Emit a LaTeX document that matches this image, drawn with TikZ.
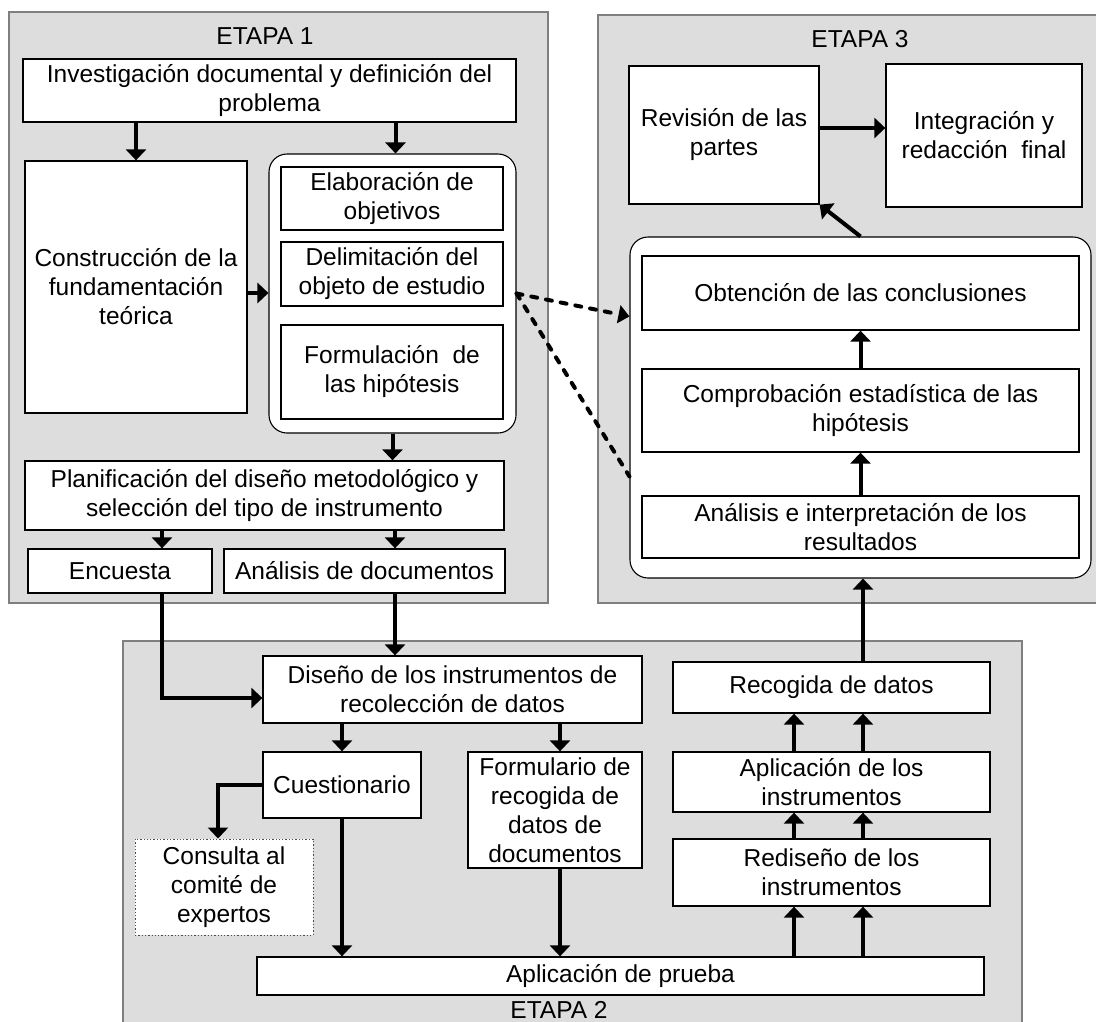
\documentclass[tikz,border=0pt]{standalone}
\usepackage{fontspec}
\setmainfont{Liberation Sans}
\usetikzlibrary{arrows.meta,calc}
\definecolor{panelgray}{HTML}{DDDDDD}
\definecolor{panelline}{HTML}{7F7F7F}
% #1 style, #2 name, #3 x1, #4 y1, #5 x2, #6 y2, #7 text
\newcommand\mkbox[7][box]{\node[#1, minimum width={#5-#3}, minimum height={#6-#4}] (#2) at ({(#3+#5)/2},{(#4+#6)/2}) {#7};}
\begin{document}
\begin{tikzpicture}[x=1pt,y=-1pt,
  panel/.style={draw=panelline, fill=panelgray, line width=1.2pt, inner sep=0pt},
  box/.style={draw=black, fill=white, line width=1.3pt, inner sep=0pt, align=center, font=\fontsize{24.5}{29}\selectfont},
  dotbox/.style={box, draw=black!70, dotted, line width=1pt},
  grp/.style={draw=black, fill=white, line width=1.1pt, rounded corners=18pt, inner sep=0pt},
  lbl/.style={font=\fontsize{24.5}{29}\selectfont, inner sep=0pt},
  arr/.style={line width=4pt, -{Triangle[length=11pt,width=20pt]}},
  dsh/.style={line width=4pt, dash pattern=on 6pt off 9pt, line cap=round}
]
\useasboundingbox (0,0) rectangle (1096,1021);
\clip (0,0) rectangle (1096,1021);
\fill[white] (0,0) rectangle (1096,1021);

% panels
\mkbox[panel]{p1}{9}{12}{548}{603}{}
\mkbox[panel]{p3}{598}{15}{1110}{603}{}
\mkbox[panel]{p2}{123}{641}{1022}{1040}{}
\node[lbl] (t1) at (265,36) {ETAPA 1};
\node[lbl] (t3) at (860,39) {ETAPA 3};
\node[lbl, anchor=base] (t2) at (559,1018) {ETAPA 2};

% groups
\mkbox[grp]{g1}{269}{154}{516}{433}{}
\mkbox[grp]{g3}{630}{237}{1091}{578}{}

% ETAPA 1
\mkbox{inv}{23}{59}{516}{122}{Investigación documental y definición del\\problema}
\mkbox{cons}{25}{161}{247}{413}{Construcción de la\\fundamentación\\teórica}
\mkbox{elab}{281}{167}{503}{230}{Elaboración de\\objetivos}
\mkbox{delim}{281}{242}{503}{306}{Delimitación del\\objeto de estudio}
\mkbox{form}{281}{325}{503}{419}{Formulación\ \ de\\las hipótesis}
\mkbox{plan}{25}{461}{504}{530}{Planificación del diseño metodológico y\\selección del tipo de instrumento}
\mkbox{enc}{28}{549}{212}{593}{Encuesta}
\mkbox{anadoc}{224}{549}{505}{593}{Análisis de documentos}

% ETAPA 3
\mkbox{rev}{629}{66}{819}{204}{Revisión de las\\partes}
\mkbox{int}{886}{64}{1082}{207}{Integración y\\redacción\ \ final}
\mkbox{obt}{642}{256}{1079}{330}{Obtención de las conclusiones}
\mkbox{comp}{642}{369}{1079}{452}{Comprobación estadística de las\\hipótesis}
\mkbox{anai}{642}{496}{1079}{558}{Análisis e interpretación de los\\resultados}

% ETAPA 2
\mkbox{dis}{263}{656}{642}{723}{Diseño de los instrumentos de\\recolección de datos}
\mkbox{cue}{263}{752}{421}{818}{Cuestionario}
\mkbox[dotbox]{con}{135}{839}{313}{935}{Consulta al\\comité de\\expertos}
\mkbox{frm}{468}{752}{642}{868}{Formulario de\\recogida de\\datos de\\documentos}
\mkbox{apr}{257}{957}{984}{995}{Aplicación de prueba}
\mkbox{rec}{673}{662}{990}{713}{Recogida de datos}
\mkbox{apl}{673}{752}{990}{812}{Aplicación de los\\instrumentos}
\mkbox{red}{673}{839}{990}{906}{Rediseño de los\\instrumentos}

% arrows ETAPA 1
\draw[arr] (inv.south -| cons.north) -- (cons.north);
\draw[arr] ([xshift=3pt]g1.north |- inv.south) -- ([xshift=3pt]g1.north);
\draw[arr] ([yshift=-6pt]cons.east) -- ([yshift=-6pt]cons.east -| g1.west);
\draw[arr] (g1.south) -- (g1.south |- plan.north);
\draw[arr] ([xshift=42pt]enc.north |- plan.south) -- ([xshift=42pt]enc.north);
\draw[arr] ([xshift=30.5pt]anadoc.north |- plan.south) -- ([xshift=30.5pt]anadoc.north);

% connections to ETAPA 2
\draw[arr] ([xshift=42pt]enc.south) |- ([yshift=-8.5pt]dis.west);
\draw[arr] ([xshift=30.5pt]anadoc.south) -- ([xshift=30.5pt]anadoc.south |- dis.north);

% arrows ETAPA 2
\draw[arr] (cue.north |- dis.south) -- (cue.north);
\draw[arr] ([xshift=5pt]frm.north |- dis.south) -- ([xshift=5pt]frm.north);
\draw[arr] (cue.west) -| ([xshift=-6pt]con.north);
\draw[arr] (cue.south) -- (cue.south |- apr.north);
\draw[arr] ([xshift=5pt]frm.south) -- ([xshift=5pt]frm.south |- apr.north);
\foreach \dx in {-37.5,31.5} {
  \draw[arr] ([xshift=\dx pt]red.south |- apr.north) -- ([xshift=\dx pt]red.south);
  \draw[arr] ([xshift=\dx pt]red.north) -- ([xshift=\dx pt]apl.south);
  \draw[arr] ([xshift=\dx pt]apl.north) -- ([xshift=\dx pt]rec.south);
}
\draw[arr] ([xshift=31.5pt]rec.north) -- ([xshift=31.5pt]rec.north |- g3.south);

% arrows ETAPA 3
\draw[arr] (anai.north) -- (comp.south);
\draw[arr] (comp.north) -- (obt.south);
\draw[arr] (g3.north) -- (rev.south east);
\draw[arr] ([yshift=7pt]rev.east) -- ([yshift=7pt]rev.east -| int.west);

% dashed connectors
\draw[dsh, -{Triangle[length=11pt,width=18pt]}] (g1.east) -- ($(g3.north west)+(0,80)$);
\draw[dsh] (g1.east) -- ($(g3.north west)+(0,240)$);
\end{tikzpicture}
\end{document}
